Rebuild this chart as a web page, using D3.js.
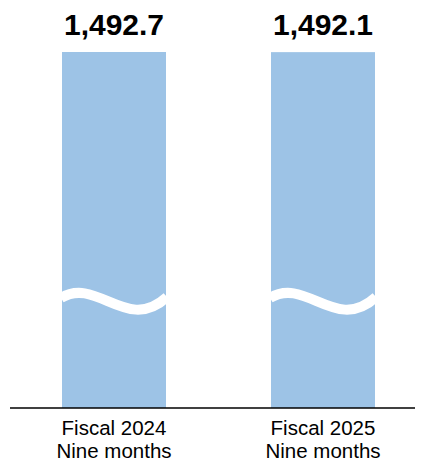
<!DOCTYPE html>
<html>
<head>
<meta charset="utf-8">
<script src="https://cdn.jsdelivr.net/npm/d3@7"></script>
<style>
  body { margin: 0; background: #fff; }
  text { font-family: "Liberation Sans", Arial, sans-serif; }
</style>
</head>
<body>
<div id="chart"></div>
<script>
// Data
const periods = ["Fiscal 2024", "Fiscal 2025"]
const subLabels = ["Nine months", "Nine months"]
const values = [1492.7, 1492.1]
const valueLabels = ["1,492.7", "1,492.1"]

const W = 424, H = 460
const margin = { top: 52, bottom: 52, left: 10, right: 9 }
const baseY = H - margin.bottom

const svg = d3.select("#chart").append("svg")
  .attr("width", W).attr("height", H)

// Scales
const xpos = d3.scalePoint().domain(periods).range([114, 323])
const barW = 104

const yscale = d3.scaleLinear().domain([0, d3.max(values)]).range([baseY, margin.top])

const data = periods.map((p, i) => ({ p, sub: subLabels[i], v: values[i], lab: valueLabels[i] }))

// Bars
svg.selectAll("rect.bar")
  .data(data)
  .join("rect")
  .attr("class", "bar")
  .attr("x", d => xpos(d.p) - barW / 2)
  .attr("width", barW)
  .attr("y", d => yscale(d.v))
  .attr("height", d => baseY - yscale(d.v))
  .attr("fill", "#9dc3e6")

// Break waves
svg.selectAll("path.wave")
  .data(data)
  .join("path")
  .attr("class", "wave")
  .attr("d", d => {
    const x0 = xpos(d.p) - barW / 2 - 1, x1 = xpos(d.p) + barW / 2 + 1
    const w = x1 - x0
    return `M${x0},298 C${x0 + w * 0.34},276 ${x0 + w * 0.62},334 ${x1},297`
  })
  .attr("fill", "none")
  .attr("stroke", "#fff")
  .attr("stroke-width", 10)

// Value labels
svg.selectAll("text.val")
  .data(data)
  .join("text")
  .attr("class", "val")
  .attr("x", d => xpos(d.p))
  .attr("y", d => yscale(d.v) - 17)
  .attr("text-anchor", "middle")
  .attr("font-size", 30)
  .attr("font-weight", "bold")
  .attr("fill", "#000")
  .text(d => d.lab)

// Axis line
svg.append("line")
  .attr("x1", margin.left).attr("x2", W - margin.right)
  .attr("y1", baseY).attr("y2", baseY)
  .attr("stroke", "#000").attr("stroke-width", 1.5)

// Category labels
const cat = svg.selectAll("text.cat")
  .data(data)
  .join("text")
  .attr("class", "cat")
  .attr("x", d => xpos(d.p))
  .attr("y", 435)
  .attr("text-anchor", "middle")
  .attr("font-size", 20.5)
  .attr("fill", "#000")
cat.append("tspan").attr("x", d => xpos(d.p)).text(d => d.p)
cat.append("tspan").attr("x", d => xpos(d.p)).attr("dy", 22.5).text(d => d.sub)
</script>
</body>
</html>
